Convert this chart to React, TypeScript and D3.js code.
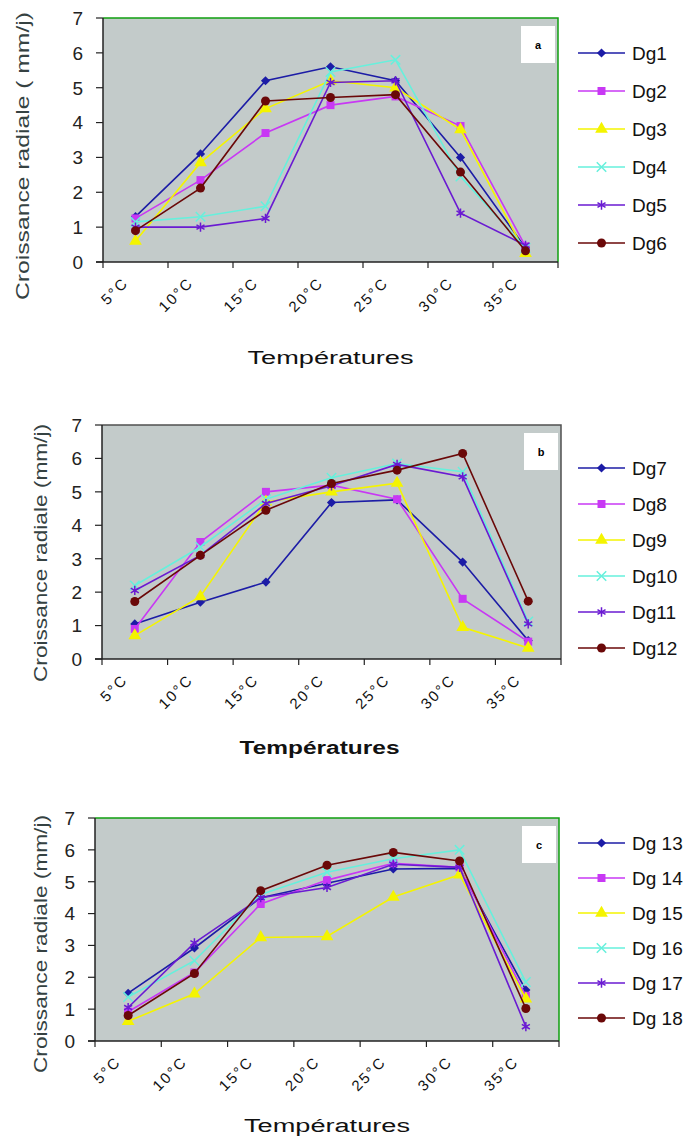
import React, { useEffect, useRef } from 'react';
import * as d3 from 'd3';

// categories shared by the three panels
const temperatures = ['5°C', '10°C', '15°C', '20°C', '25°C', '30°C', '35°C'];
const yTicks = [0, 1, 2, 3, 4, 5, 6, 7];

// panel a
const dg1 = [1.3, 3.1, 5.2, 5.6, 5.2, 3.0, 0.4];
const dg2 = [1.25, 2.35, 3.7, 4.5, 4.75, 3.9, 0.45];
const dg3 = [0.6, 2.85, 4.4, 5.2, 5.0, 3.8, 0.25];
const dg4 = [1.15, 1.3, 1.6, 5.45, 5.8, 2.45, 0.4];
const dg5 = [1.0, 1.0, 1.25, 5.15, 5.2, 1.4, 0.48];
const dg6 = [0.9, 2.12, 4.62, 4.72, 4.8, 2.58, 0.32];

// panel b
const dg7 = [1.05, 1.7, 2.3, 4.68, 4.76, 2.9, 0.55];
const dg8 = [0.9, 3.5, 5.0, 5.2, 4.78, 1.8, 0.52];
const dg9 = [0.7, 1.87, 4.7, 5.0, 5.26, 0.95, 0.33];
const dg10 = [2.2, 3.35, 4.78, 5.42, 5.85, 5.6, 1.12];
const dg11 = [2.05, 3.1, 4.65, 5.18, 5.82, 5.45, 1.05];
const dg12 = [1.72, 3.1, 4.45, 5.25, 5.65, 6.15, 1.73];

// panel c
const dg13 = [1.5, 2.92, 4.5, 4.95, 5.4, 5.42, 1.6];
const dg14 = [0.92, 2.15, 4.3, 5.05, 5.58, 5.45, 1.42];
const dg15 = [0.62, 1.48, 3.25, 3.28, 4.52, 5.22, 1.32];
const dg16 = [1.38, 2.52, 4.6, 5.3, 5.72, 6.0, 1.85];
const dg17 = [1.05, 3.08, 4.5, 4.82, 5.55, 5.45, 0.45];
const dg18 = [0.8, 2.12, 4.72, 5.52, 5.92, 5.65, 1.02];

const colors = ['#1c1ca6', '#c838f4', '#f4f400', '#66f0dc', '#6a1ad2', '#6a0808'];
const markers = ['diamond', 'square', 'triangle', 'cross', 'star', 'circle'];

const panels = [
  {
    names: ['Dg1', 'Dg2', 'Dg3', 'Dg4', 'Dg5', 'Dg6'],
    series: [dg1, dg2, dg3, dg4, dg5, dg6],
    letter: 'a',
    yTitle: 'Croissance radiale ( mm/j)',
    xTitle: 'Températures',
    box: { left: 103, right: 558, top: 18, bottom: 262 },
    frame: '#10a010', boldX: false,
    legendTop: 53, legendStep: 38,
    yTitleX: 22, yTitleY: 156, yTitleLen: 288,
    xTitleY: 364,
  },
  {
    names: ['Dg7', 'Dg8', 'Dg9', 'Dg10', 'Dg11', 'Dg12'],
    series: [dg7, dg8, dg9, dg10, dg11, dg12],
    letter: 'b',
    yTitle: 'Croissance radiale (mm/j)',
    xTitle: 'Températures',
    box: { left: 102, right: 561, top: 425, bottom: 659 },
    frame: '#505050', boldX: true,
    legendTop: 468, legendStep: 36,
    yTitleX: 40, yTitleY: 553, yTitleLen: 258,
    xTitleY: 754,
  },
  {
    names: ['Dg 13', 'Dg 14', 'Dg 15', 'Dg 16', 'Dg 17', 'Dg 18'],
    series: [dg13, dg14, dg15, dg16, dg17, dg18],
    letter: 'c',
    yTitle: 'Croissance radiale (mm/j)',
    xTitle: 'Températures',
    box: { left: 95, right: 559, top: 818, bottom: 1041 },
    frame: '#10a010', boldX: false,
    legendTop: 843, legendStep: 35,
    yTitleX: 40, yTitleY: 944, yTitleLen: 258,
    xTitleY: 1132,
  },
];

const font = '"Liberation Sans", Arial, sans-serif';

const drawMarker = (g, type, x, y, color) => {
  if (type === 'circle') {
    g.append('circle').attr('cx', x).attr('cy', y).attr('r', 4.5).attr('fill', color);
  } else if (type === 'cross' || type === 'star') {
    const s = type === 'star' ? d3.symbolAsterisk : d3.symbolX;
    g.append('path')
      .attr('d', d3.symbol(s, 60)())
      .attr('transform', `translate(${x},${y})`)
      .attr('fill', 'none')
      .attr('stroke', color)
      .attr('stroke-width', 1.5);
  } else if (type === 'diamond') {
    g.append('path')
      .attr('d', d3.symbol(d3.symbolSquare, 42)())
      .attr('transform', `translate(${x},${y}) rotate(45)`)
      .attr('fill', color);
  } else {
    const s = type === 'square' ? d3.symbolSquare : d3.symbolTriangle;
    const size = type === 'square' ? 64 : 70;
    g.append('path')
      .attr('d', d3.symbol(s, size)())
      .attr('transform', `translate(${x},${y})`)
      .attr('fill', color);
  }
};

const App = () => {
  const svgRef = useRef(null);

  useEffect(() => {
    const svg = d3.select(svgRef.current);
    svg.selectAll('*').remove();

    panels.forEach(p => {
      const { left, right, top, bottom } = p.box;
      const g = svg.append('g');

      const x = d3.scaleBand().domain(temperatures).range([left, right]);
      const y = d3.scaleLinear().domain([0, 7]).range([bottom, top]);

      // plot area
      g.append('rect')
        .attr('x', left).attr('y', top)
        .attr('width', right - left).attr('height', bottom - top)
        .attr('fill', '#c3cbca');

      // frame top / right
      g.append('path')
        .attr('d', `M${left},${top}H${right}V${bottom}`)
        .attr('fill', 'none')
        .attr('stroke', p.frame)
        .attr('stroke-width', 1.5);

      // y axis
      g.append('line')
        .attr('x1', left).attr('x2', left).attr('y1', top).attr('y2', bottom)
        .attr('stroke', '#222').attr('stroke-width', 1.5);
      yTicks.forEach(t => {
        g.append('line')
          .attr('x1', left - 7).attr('x2', left)
          .attr('y1', y(t)).attr('y2', y(t))
          .attr('stroke', '#222').attr('stroke-width', 1.2);
        g.append('text')
          .attr('x', left - 20).attr('y', y(t)).attr('dy', '0.36em')
          .attr('text-anchor', 'end')
          .style('font-family', font).style('font-size', '19px')
          .style('fill', '#222')
          .text(t);
      });

      // x axis
      g.append('line')
        .attr('x1', left - 7).attr('x2', right).attr('y1', bottom).attr('y2', bottom)
        .attr('stroke', '#222').attr('stroke-width', 1.5);
      const edges = temperatures.map(c => x(c)).concat([right]);
      edges.forEach(e => {
        g.append('line')
          .attr('x1', e).attr('x2', e).attr('y1', bottom).attr('y2', bottom + 6)
          .attr('stroke', '#222').attr('stroke-width', 1.2);
      });
      temperatures.forEach(c => {
        const cx = x(c) + x.bandwidth() / 2 - 10;
        const cy = bottom + 18;
        g.append('text')
          .attr('transform', `translate(${cx},${cy}) rotate(-45)`)
          .attr('text-anchor', 'end')
          .attr('dy', '0.35em')
          .style('font-family', font).style('font-size', '15px')
          .style('letter-spacing', '2px')
          .style('fill', '#111')
          .text(c);
      });

      // titles
      g.append('text')
        .attr('transform', `translate(${p.yTitleX},${p.yTitleY}) rotate(-90)`)
        .attr('text-anchor', 'middle')
        .attr('dy', '0.35em')
        .attr('textLength', p.yTitleLen)
        .attr('lengthAdjust', 'spacingAndGlyphs')
        .style('font-family', font).style('font-size', '19px')
        .style('fill', '#354242')
        .text(p.yTitle);

      g.append('text')
        .attr('x', (left + right) / 2 + (p.boldX ? -12 : 0))
        .attr('y', p.xTitleY)
        .attr('text-anchor', 'middle')
        .attr('textLength', p.boldX ? 160 : 166)
        .attr('lengthAdjust', 'spacingAndGlyphs')
        .style('font-family', font).style('font-size', '18px')
        .style('font-weight', p.boldX ? 'bold' : 'normal')
        .style('fill', '#111')
        .text(p.xTitle);

      // little label box
      g.append('rect')
        .attr('x', right - 37).attr('y', top + 8)
        .attr('width', 34).attr('height', 37)
        .attr('fill', '#fff');
      g.append('text')
        .attr('x', right - 20).attr('y', top + 31)
        .attr('text-anchor', 'middle')
        .style('font-family', font).style('font-size', '11px')
        .style('font-weight', 'bold')
        .text(p.letter);

      // series
      const line = d3.line()
        .x((d, i) => x(temperatures[i]) + x.bandwidth() / 2)
        .y(d => y(d));

      p.series.forEach((vals, si) => {
        g.append('path')
          .attr('d', line(vals))
          .attr('fill', 'none')
          .attr('stroke', colors[si])
          .attr('stroke-width', 1.6);
        vals.forEach((v, i) => {
          drawMarker(g, markers[si], x(temperatures[i]) + x.bandwidth() / 2, y(v), colors[si]);
        });
      });

      // legend
      p.names.forEach((n, si) => {
        const ly = p.legendTop + si * p.legendStep;
        g.append('line')
          .attr('x1', 578).attr('x2', 625).attr('y1', ly).attr('y2', ly)
          .attr('stroke', colors[si]).attr('stroke-width', 1.6);
        drawMarker(g, markers[si], 601.5, ly, colors[si]);
        g.append('text')
          .attr('x', 632).attr('y', ly).attr('dy', '0.36em')
          .style('font-family', font).style('font-size', '19px')
          .style('fill', '#111')
          .text(n);
      });
    });
  }, []);

  return (
    <svg
      ref={svgRef}
      width={690}
      height={1140}
      style={{ position: 'absolute', left: 0, top: 0, background: '#fff' }}
    />
  );
};

export default App;
